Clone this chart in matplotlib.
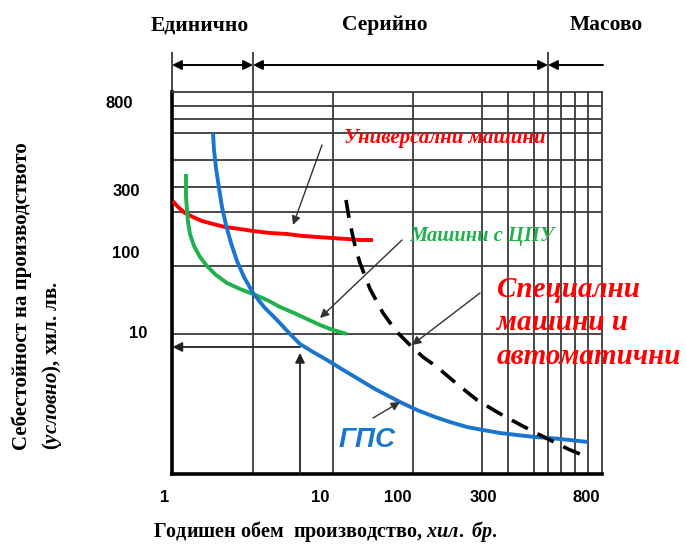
import matplotlib
matplotlib.use("Agg")
import matplotlib.pyplot as plt

plt.rcParams['mathtext.fontset'] = 'custom'
plt.rcParams['mathtext.rm'] = 'Liberation Serif:bold'
plt.rcParams['mathtext.bf'] = 'Liberation Serif:bold'
plt.rcParams['mathtext.it'] = 'Liberation Serif:italic:bold'

# ---- data (schematic chart units) ----
# grid positions of the hand-drawn log grid
grid_x = [81, 161, 241, 310, 336, 362, 376, 389, 403, 416]
grid_y = [368, 355, 341, 314, 287, 262, 208, 140]
zone_bounds = [0, 81, 376, 430]
zone_labels = ['Единично', 'Серийно', 'Масово']

x_tick_labels = ['1', '10', '100', '300', '800']
x_tick_pos = [-7, 148, 226, 311, 414]
y_tick_labels = ['800', '300', '100', '10']
y_tick_pos = [371, 282, 221, 140]
y_tick_xoff = [-53, -46, -46, -34]

univ_x = [0.7, 6, 13, 21, 30, 41, 53, 68, 81, 98, 115, 131, 145, 160, 175, 188, 201]
univ_y = [273, 267, 261, 257, 253, 250, 247, 245, 243, 241, 240, 238, 237, 236, 235, 234, 234]

cnc_x = [14, 14, 14, 15, 16, 18, 22, 28, 35, 44, 55, 68, 81, 95, 108, 122, 135, 148, 161, 175]
cnc_y = [300, 289, 277, 264, 252, 240, 228, 217, 208, 199, 191, 185, 180, 174, 167, 161, 155, 149, 144, 140]

fms_x = [41, 42, 44, 47, 50, 54, 59, 65, 72, 81, 92, 105, 118, 128, 141, 155, 168, 183,
         203, 228, 245, 263, 278, 295, 311, 328, 345, 363, 378, 398, 416]
fms_y = [341, 324, 306, 286, 267, 249, 231, 213, 197, 181, 167, 154, 140, 130, 122, 114, 106, 97,
         85, 72, 64, 57, 52, 47, 44, 41, 39, 37, 36, 34, 32]

spec_x = [174, 177, 181, 184, 188, 198, 211, 224, 238, 251, 265, 285, 305, 325, 345, 362, 378, 396, 415]
spec_y = [274, 256, 237, 224, 211, 185, 161, 143, 129, 117, 107, 90, 74, 62, 51, 42, 34, 25, 17]

RED = '#ff0000'
GREEN = '#1fb24c'
BLUE = '#1b75cc'
GRID = '#3a3a3a'

fig = plt.figure(figsize=(6.86, 5.45), dpi=100)
ax = fig.add_axes([172 / 686, (545 - 474) / 545, 430 / 686, 382 / 545])
ax.set_xlim(0, 430)
ax.set_ylim(0, 382)
ax.set_xticks([])
ax.set_yticks([])
for s in ['left', 'bottom']:
    ax.spines[s].set_linewidth(2.6)
    ax.spines[s].set_color('black')
for s in ['top', 'right']:
    ax.spines[s].set_linewidth(1.3)
    ax.spines[s].set_color(GRID)

# grid
ax.vlines(grid_x, 0, 382, color=GRID, lw=1.3, zorder=1)
ax.hlines(grid_y, 0, 430, color=GRID, lw=1.3, zorder=1)
# zone separators above plot
ax.vlines(zone_bounds[:3], 382, 422, color=GRID, lw=1.3, clip_on=False)

# zone arrows
arrow_y = 409
head = dict(color='black', lw=1.4, mutation_scale=14, shrinkA=0, shrinkB=0)
ax.annotate('', xy=(zone_bounds[1], arrow_y), xytext=(zone_bounds[0], arrow_y),
            arrowprops=dict(arrowstyle='<|-|>', **head), annotation_clip=False)
ax.annotate('', xy=(zone_bounds[2], arrow_y), xytext=(zone_bounds[1], arrow_y),
            arrowprops=dict(arrowstyle='<|-|>', **head), annotation_clip=False)
ax.annotate('', xy=(zone_bounds[2], arrow_y), xytext=(zone_bounds[3] + 1, arrow_y),
            arrowprops=dict(arrowstyle='-|>', **head), annotation_clip=False)

zone_text_x = [28, 213, 434]
for lbl, xx in zip(zone_labels, zone_text_x):
    ax.text(xx, 449, lbl, ha='center', va='center', fontsize=15.5,
            fontweight='bold', family='Liberation Serif', clip_on=False)

# curves
ax.plot(univ_x, univ_y, color=RED, lw=2.8, solid_capstyle='butt', zorder=3)
ax.plot(cnc_x, cnc_y, color=GREEN, lw=2.8, solid_capstyle='butt', zorder=3)
ax.plot(fms_x, fms_y, color=BLUE, lw=2.8, solid_capstyle='butt', zorder=3)
ax.plot(spec_x, spec_y, color='black', lw=2.6, dashes=(5, 3), zorder=3)

# helper arrows
thin = dict(arrowstyle='-|>', color='#333333', lw=1.0, mutation_scale=13,
            shrinkA=0, shrinkB=0)
ax.annotate('', xy=(121, 249), xytext=(150, 329), arrowprops=thin)
ax.annotate('', xy=(148, 156), xytext=(230, 234), arrowprops=thin, annotation_clip=False)
ax.annotate('', xy=(240, 129), xytext=(308, 181), arrowprops=thin)
ax.annotate('', xy=(228, 72), xytext=(201, 56), arrowprops=thin)

# reference arrows at volume 10
ref = dict(arrowstyle='-|>', color='#222222', lw=1.3, mutation_scale=14,
           shrinkA=0, shrinkB=0)
ax.annotate('', xy=(0.5, 127), xytext=(128, 127), arrowprops=ref)
ax.annotate('', xy=(128, 121), xytext=(128, 0), arrowprops=ref)

# curve labels
ax.text(273, 336, 'Универсални машини', color=RED, fontsize=15, ha='center',
        va='center', style='italic', fontweight='bold', family='Liberation Serif')
ax.text(310, 238, 'Машини с ЦПУ', color=GREEN, fontsize=14.8, ha='center',
        va='center', style='italic', fontweight='bold', family='Liberation Serif')
ax.text(325, 151, 'Специални\nмашини и\nавтоматични', color=RED, fontsize=21,
        ha='left', va='center', style='italic', fontweight='bold',
        family='Liberation Serif', linespacing=1.3, clip_on=False)
ax.text(195, 34, 'ГПС', color=BLUE, fontsize=20, ha='center', va='center',
        style='italic', fontweight='bold', family='Liberation Sans')

# tick labels
for lbl, xx in zip(x_tick_labels, x_tick_pos):
    ax.text(xx, -23, lbl, ha='center', va='center', fontsize=12,
            fontweight='bold', family='Liberation Sans', clip_on=False)
for lbl, yy, xx in zip(y_tick_labels, y_tick_pos, y_tick_xoff):
    ax.text(xx, yy, lbl, ha='center', va='center', fontsize=12,
            fontweight='bold', family='Liberation Sans', clip_on=False)

# axis titles
ax.text(-150, 24, 'Себестойност на производството', rotation=90, ha='center',
        va='bottom', fontsize=15, fontweight='bold', family='Liberation Serif',
        clip_on=False)
ax.text(-120, 24, r'$\mathit{(условно)}$, хил. лв.', rotation=90, ha='center',
        va='bottom', fontsize=15, fontweight='bold', family='Liberation Serif',
        clip_on=False)
ax.text(-19, -57, r'Годишен обем  производство, $\mathit{хил.\ бр.}$', ha='left',
        va='center', fontsize=14.5, fontweight='bold', family='Liberation Serif',
        clip_on=False)

fig.savefig('out.png', dpi=100)
